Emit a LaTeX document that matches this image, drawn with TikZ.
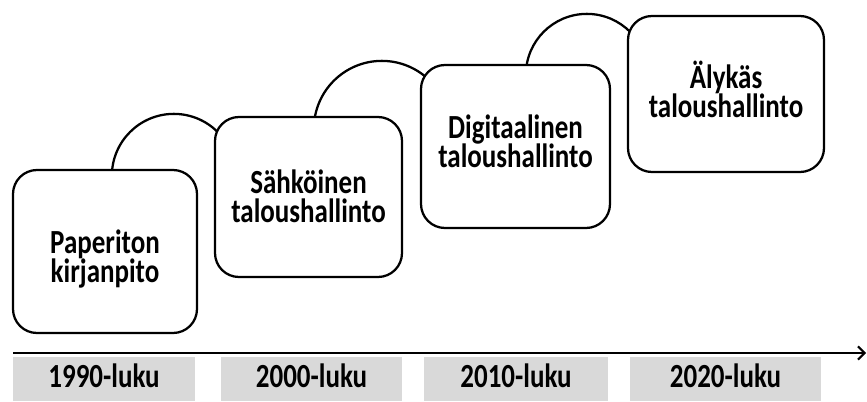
\documentclass[tikz,border=0pt]{standalone}
\usepackage{graphicx}
\usepackage{fontspec}
\setmainfont{Carlito}
\usetikzlibrary{arrows.meta,fit,calc,backgrounds}
\definecolor{eragray}{HTML}{D9D9D9}
% text set slightly taller than wide
\newcommand\tallish[1]{\scalebox{1}[1.25]{#1}}
\newcommand\twolines[2]{\tallish{\vbox{\baselineskip=17.4pt\lineskiplimit=-\maxdimen
  \halign{\hfil##\hfil\cr#1\cr#2\cr}}}}
\begin{document}
\begin{tikzpicture}[x=0.75pt,y=0.75pt,yscale=-1,
  stage/.style={draw=black, line width=1.7pt, fill=white, rounded corners=18pt, inner sep=0pt},
  era/.style={fill=eragray, draw=none, inner sep=0pt},
  txt/.style={anchor=base, inner sep=0pt, font=\bfseries\fontsize{20.25}{24}\selectfont},
  linkarc/.style={line width=1.7pt},
  axis/.style={line width=1.5pt, -{Straight Barb[length=5pt,width=10pt,line width=1.5pt]}}]
\useasboundingbox (0,0) rectangle (867,401);

% stage boxes
\node[stage, fit={(13,170) (197,333)}] (b1) {};
\node[stage, fit={(215,117) (402,277)}] (b2) {};
\node[stage, fit={(421,65) (610,228)}] (b3) {};
\node[stage, fit={(628,16) (824,172)}] (b4) {};

% arcs joining one stage to the next, tucked behind the boxes
\begin{scope}[on background layer]
  \draw[linkarc] ($(b1.north west)+(100,7)$) arc[start angle=180, end angle=360, radius=46.5pt];
  \draw[linkarc] ($(b2.north west)+(100,13)$) arc[start angle=180, end angle=360, radius=51pt];
  \draw[linkarc] ($(b3.north west)+(106,11)$) arc[start angle=180, end angle=360, radius=45.75pt];
\end{scope}

% stage texts
\node[txt] (s1) at (105,282) {\twolines{Paperiton}{kirjanpito}};
\node[txt] (s2) at (308.5,222) {\twolines{Sähköinen}{taloushallinto}};
\node[txt] (s3) at (515.5,167) {\twolines{Digitaalinen}{taloushallinto}};
\node[txt] (s4) at (726,117) {\twolines{Älykäs}{taloushallinto}};

% time axis
\coordinate (t0) at (13,353);
\coordinate (t1) at (866,353);
\draw[axis] (t0) -- (t1);

% decade labels
\node[era, fit={(13,357) (195,401)}] (g1) {};
\node[era, fit={(221,357) (402,401)}] (g2) {};
\node[era, fit={(424,357) (608,401)}] (g3) {};
\node[era, fit={(630,357) (821,401)}] (g4) {};
\node[txt] (d1) at (104,387) {\tallish{1990-luku}};
\node[txt] (d2) at (311.5,387) {\tallish{2000-luku}};
\node[txt] (d3) at (516,387) {\tallish{2010-luku}};
\node[txt] (d4) at (725.5,387) {\tallish{2020-luku}};
\end{tikzpicture}
\end{document}
